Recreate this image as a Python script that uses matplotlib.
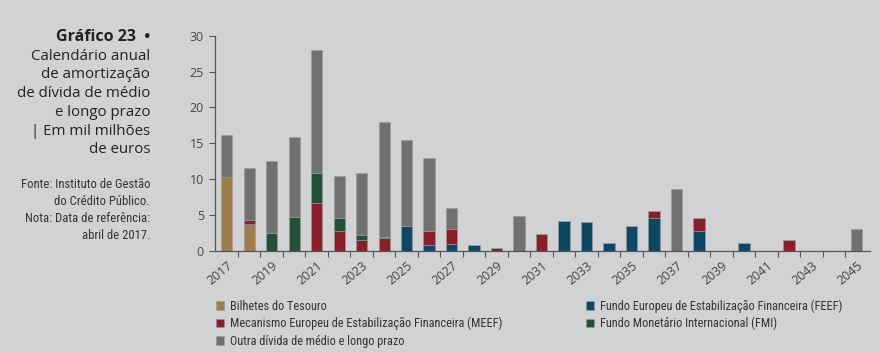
import numpy as np
import matplotlib.pyplot as plt

# Calendario anual de amortizacao de divida de medio e longo prazo (mil milhoes de euros)
anos = list(range(2017, 2046))

bilhetes = [10.3, 3.7, 0, 0, 0, 0, 0, 0, 0, 0, 0, 0, 0, 0, 0, 0, 0, 0, 0, 0, 0, 0, 0, 0, 0, 0, 0, 0, 0]
feef = [0, 0, 0, 0, 0, 0, 0, 0, 3.5, 0.75, 1.0, 0.75, 0, 0, 0, 4.2, 4.05, 1.05, 3.45, 4.6, 0, 2.8, 0, 1.1, 0, 0, 0, 0, 0]
meef = [0, 0.6, 0, 0, 6.7, 2.7, 1.5, 1.75, 0, 1.95, 2.0, 0, 0.35, 0, 2.3, 0, 0, 0, 0, 1.0, 0, 1.7, 0, 0, 0, 1.5, 0, 0, 0]
fmi = [0, 0, 2.5, 4.7, 4.1, 1.9, 0.7, 0.15, 0, 0, 0, 0, 0, 0, 0, 0, 0, 0, 0, 0, 0, 0, 0, 0, 0, 0, 0, 0, 0]
outra = [5.9, 7.2, 10.0, 11.2, 17.2, 5.8, 8.6, 16.1, 12.0, 10.3, 3.0, 0, 0, 4.9, 0, 0, 0, 0, 0, 0, 8.55, 0, 0, 0, 0, 0, 0, 0, 3.0]

series = [
    ("Bilhetes do Tesouro", bilhetes, "#a07c4b"),
    ("Fundo Europeu de Estabilização Financeira (FEEF)", feef, "#0c4862"),
    ("Mecanismo Europeu de Estabilização Financeira (MEEF)", meef, "#8a1f2a"),
    ("Fundo Monetário Internacional (FMI)", fmi, "#244f38"),
    ("Outra dívida de médio e longo prazo", outra, "#717171"),
]

bg = "#d1d2d4"
narrow = ["Roboto Condensed", "Liberation Sans", "DejaVu Sans"]
plt.rcParams['font.family'] = ['Open Sans', 'DejaVu Sans']

fig = plt.figure(figsize=(8.8, 3.53), dpi=100, facecolor=bg)
ax = fig.add_axes([0.2443, 0.2898, 0.7443, 0.6091], facecolor=bg)

x = np.arange(len(anos))
bottom = np.zeros(len(anos))
handles = {}
for name, vals, color in series:
    vals = np.array(vals)
    b = ax.bar(x, vals, 0.5, bottom=bottom, color=color, edgecolor="#9a9a9a", linewidth=0.4, label=name)
    handles[name] = b
    bottom += vals

ax.set_xlim(-0.52, 28.6)
ax.set_ylim(0, 30)
ax.set_yticks(range(0, 31, 5))
ax.set_xticks(x[::2])
ax.set_xticklabels([str(a) for a in anos[::2]], rotation=40, ha="right", rotation_mode="anchor")
ax.set_xticks(x[:-1] + 0.5, minor=True)
ax.tick_params(axis="x", which="major", length=0, pad=6, labelsize=9, colors="#444444")
ax.tick_params(axis="x", which="minor", length=4, color="#555555", width=0.8)
ax.tick_params(axis="y", length=4, color="#555555", labelsize=9, labelcolor="#444444", pad=4)
for s in ["top", "right"]:
    ax.spines[s].set_visible(False)
for s in ["left", "bottom"]:
    ax.spines[s].set_color("#555555")
    ax.spines[s].set_linewidth(0.9)

order = [
    "Bilhetes do Tesouro",
    "Mecanismo Europeu de Estabilização Financeira (MEEF)",
    "Outra dívida de médio e longo prazo",
    "Fundo Europeu de Estabilização Financeira (FEEF)",
    "Fundo Monetário Internacional (FMI)",
]
leg = fig.legend([handles[n] for n in order], order, ncol=2, loc="upper left",
                 bbox_to_anchor=(0.240, 0.166), frameon=False,
                 prop={"family": narrow, "size": 8.8},
                 handlelength=0.65, handleheight=0.65, handletextpad=0.45,
                 columnspacing=6.9, labelspacing=0.35, borderaxespad=0)
for t in leg.get_texts():
    t.set_color("#333333")

# title block on the left
fig.text(0.1705, 1 - 37 / 353, "Gráfico 23  •", ha="right", va="center",
         fontsize=11.5, fontweight="bold", color="#222222")
title_lines = ["Calendário anual", "de amortização", "de dívida de médio",
               "e longo prazo", "| Em mil milhões", "de euros"]
for i, line in enumerate(title_lines):
    fig.text(0.1705, 1 - (56 + i * 18.8) / 353, line, ha="right", va="center",
             fontsize=10.8, color="#222222")

note_lines = ["Fonte: Instituto de Gestão", "do Crédito Público.",
              "Nota: Data de referência:", "abril de 2017."]
for i, line in enumerate(note_lines):
    fig.text(0.1705, 1 - (185 + i * 16.8) / 353, line, ha="right", va="center",
             fontsize=9.1, color="#333333", family=narrow)

fig.savefig("out.png", dpi=100, facecolor=bg)
